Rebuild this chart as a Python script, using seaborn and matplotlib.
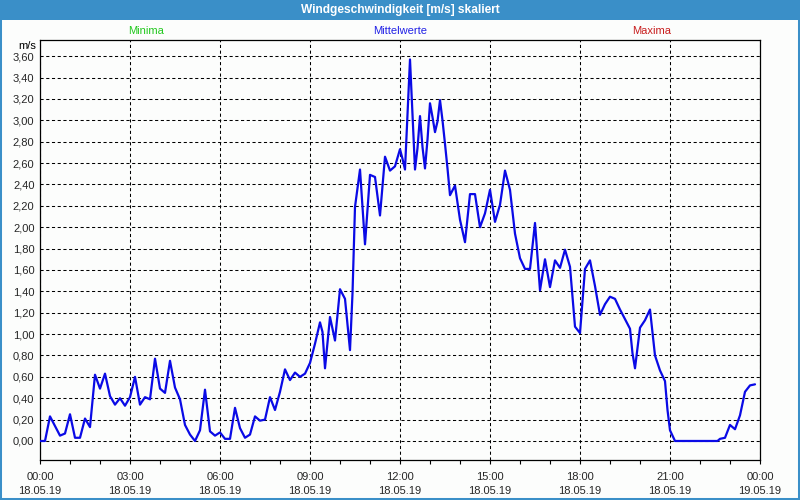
import matplotlib
matplotlib.use("Agg")
import matplotlib.pyplot as plt
from matplotlib.patches import Rectangle
from matplotlib.ticker import FixedLocator, FixedFormatter, MultipleLocator
import seaborn as sns
import pandas as pd

# ---- data (minutes since 18.05.19 00:00, wind speed m/s) ----
minutes_a = [0, 10, 20, 40, 50, 60, 70, 80, 90, 100, 110, 120, 130, 140, 150, 160, 170]
values_a = [0.0, 0.0, 0.23, 0.05, 0.07, 0.25, 0.03, 0.03, 0.21, 0.13, 0.62, 0.49, 0.63, 0.42, 0.34, 0.40, 0.33]

minutes_b = [180, 190, 200, 210, 220, 230, 240, 250, 260, 270, 280, 290, 300, 310, 320, 330, 340, 350]
values_b = [0.41, 0.60, 0.34, 0.41, 0.39, 0.77, 0.49, 0.45, 0.75, 0.50, 0.39, 0.15, 0.06, 0.0, 0.10, 0.48, 0.09, 0.05]

minutes_c = [360, 370, 380, 390, 400, 410, 420, 430, 440, 450, 460, 470, 480, 490, 500, 510, 520, 530]
values_c = [0.08, 0.02, 0.02, 0.31, 0.12, 0.03, 0.06, 0.23, 0.19, 0.20, 0.41, 0.29, 0.46, 0.67, 0.57, 0.64, 0.60, 0.63]

minutes_d = [540, 550, 560, 565, 570, 580, 590, 600, 610, 620, 625, 630, 640, 650, 660, 670, 680, 690, 700, 710]
values_d = [0.73, 0.91, 1.11, 1.02, 0.68, 1.16, 0.94, 1.42, 1.33, 0.85, 1.38, 2.19, 2.54, 1.84, 2.49, 2.47, 2.11, 2.66, 2.53, 2.57]

minutes_e = [720, 725, 730, 740, 750, 755, 760, 765, 770, 775, 780, 785, 790, 795, 800, 805, 810, 815,
             820, 830, 840, 850, 860, 870, 880, 890]
values_e = [2.73, 2.64, 2.54, 3.57, 2.54, 2.74, 3.04, 2.75, 2.55, 2.82, 3.16, 3.03, 2.89, 2.99, 3.19, 3.00, 2.78, 2.55,
            2.30, 2.39, 2.07, 1.86, 2.31, 2.31, 2.00, 2.13]

minutes_f = [900, 910, 920, 930, 940, 950, 960, 970, 980, 990, 1000, 1010, 1020, 1030, 1040, 1050, 1060, 1070]
values_f = [2.35, 2.05, 2.21, 2.53, 2.35, 1.94, 1.71, 1.61, 1.61, 2.04, 1.41, 1.70, 1.44, 1.69, 1.62, 1.79, 1.63, 1.07]

minutes_g = [1080, 1090, 1100, 1110, 1120, 1130, 1140, 1150, 1160, 1170, 1180, 1185, 1190, 1200, 1210, 1220,
             1230, 1240, 1250]
values_g = [1.01, 1.61, 1.69, 1.45, 1.18, 1.28, 1.35, 1.33, 1.23, 1.14, 1.05, 0.82, 0.68, 1.06, 1.13, 1.23,
            0.80, 0.66, 0.56]

minutes_h = [1255, 1260, 1270, 1355, 1360, 1370, 1380, 1390, 1400, 1410, 1420, 1430]
values_h = [0.29, 0.10, 0.0, 0.0, 0.02, 0.03, 0.15, 0.11, 0.24, 0.46, 0.52, 0.53]

x_tick_minutes = [0, 180, 360, 540, 720, 900, 1080, 1260, 1440]
x_tick_labels = ["00:00\n18.05.19", "03:00\n18.05.19", "06:00\n18.05.19", "09:00\n18.05.19",
                 "12:00\n18.05.19", "15:00\n18.05.19", "18:00\n18.05.19", "21:00\n18.05.19",
                 "00:00\n19.05.19"]
y_ticks = [0.0, 0.2, 0.4, 0.6, 0.8, 1.0, 1.2, 1.4, 1.6, 1.8, 2.0, 2.2, 2.4, 2.6, 2.8, 3.0, 3.2, 3.4, 3.6]
y_tick_labels = ["0,00", "0,20", "0,40", "0,60", "0,80", "1,00", "1,20", "1,40", "1,60", "1,80",
                 "2,00", "2,20", "2,40", "2,60", "2,80", "3,00", "3,20", "3,40", "3,60"]

title = "Windgeschwindigkeit [m/s] skaliert"
legend_labels = ["Minima", "Mittelwerte", "Maxima"]
unit_label = "m/s"

minutes = minutes_a + minutes_b + minutes_c + minutes_d + minutes_e + minutes_f + minutes_g + minutes_h
values = values_a + values_b + values_c + values_d + values_e + values_f + values_g + values_h
assert len(minutes) == len(values)

df = pd.DataFrame({"minute": minutes, "speed": values})

# ---- styling ----
sns.set_style("white")
plt.rcParams["font.family"] = ["Liberation Sans", "DejaVu Sans"]
FS = 8
BAR = "#3a8fc8"
BG = "#fcfdfc"

fig = plt.figure(figsize=(8, 5), dpi=100)
fig.patch.set_facecolor(BG)
W, H = 800, 500
ax = fig.add_axes([40 / W, 40 / H, 720 / W, 420 / H])
ax.set_facecolor(BG)

sns.lineplot(data=df, x="minute", y="speed", ax=ax, color="#0a0ae6", linewidth=1.6,
             estimator=None, sort=False, zorder=3)

ax.set_xlim(0, 1440)
ax.set_ylim(-0.178, 3.752)
ax.set_xlabel("")
ax.set_ylabel("")

ax.xaxis.set_major_locator(FixedLocator(x_tick_minutes))
ax.xaxis.set_major_formatter(FixedFormatter(x_tick_labels))
ax.xaxis.set_minor_locator(MultipleLocator(60))
ax.yaxis.set_major_locator(FixedLocator(y_ticks))
ax.yaxis.set_major_formatter(FixedFormatter(y_tick_labels))

ax.tick_params(axis="x", which="both", direction="out", length=3, width=0.8, color="black",
               labelsize=FS, pad=6, bottom=True)
ax.tick_params(axis="y", which="both", length=0, labelsize=FS, pad=4, left=True)
for lab in ax.get_xticklabels():
    lab.set_linespacing(1.4)

ax.grid(True, which="major", axis="both", color="black", linewidth=0.75,
        linestyle=(0, (3, 2.5)), zorder=1)
ax.set_axisbelow(True)
for sp in ax.spines.values():
    sp.set_visible(True)
    sp.set_color("black")
    sp.set_linewidth(0.9)

# title bar
fig.add_artist(Rectangle((0, 1 - 20 / H), 1, 20 / H, transform=fig.transFigure,
                         facecolor=BAR, edgecolor="none", zorder=0))
fig.text(0.5, 1 - 10 / H, title, ha="center", va="center", color="white",
         fontsize=8.6, fontweight="bold")

# series labels
fig.text(146 / W, 1 - 31 / H, legend_labels[0], ha="center", va="center", color="#22c81e", fontsize=FS)
fig.text(400 / W, 1 - 31 / H, legend_labels[1], ha="center", va="center", color="#2020e6", fontsize=FS)
fig.text(652 / W, 1 - 31 / H, legend_labels[2], ha="center", va="center", color="#c81e1e", fontsize=FS)

# unit label
fig.text(36 / W, 1 - 46 / H, unit_label, ha="right", va="center", color="black", fontsize=FS)

# window border
fig.add_artist(Rectangle((0, 0), 1, 1, transform=fig.transFigure, fill=False,
                         edgecolor=BAR, linewidth=2.9, zorder=10))

fig.savefig("out.png", dpi=100, facecolor=fig.get_facecolor())
